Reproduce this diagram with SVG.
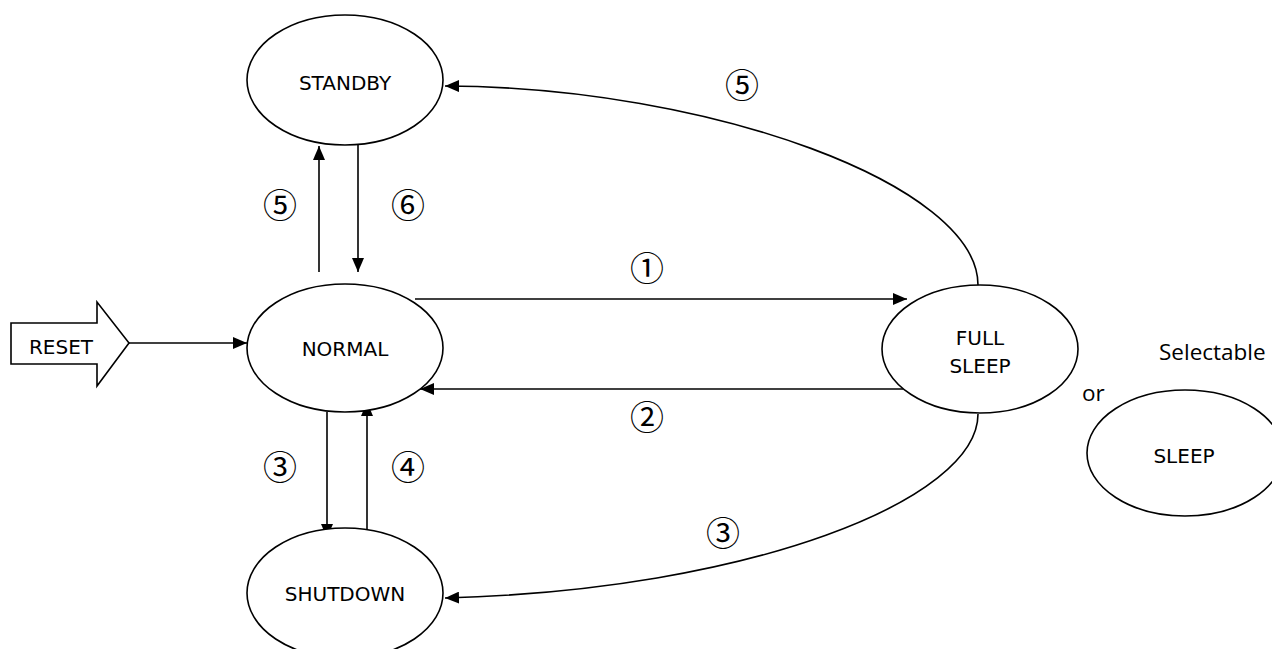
<svg xmlns="http://www.w3.org/2000/svg" width="1272" height="649" viewBox="0 0 1272 649">
<style>
.node{fill:#fff;stroke:#000;stroke-width:1.6}
.lbl{font-family:"DejaVu Sans",Verdana,sans-serif;font-size:20px;fill:#000;text-anchor:middle}
.num{font-family:"Noto Sans CJK JP","DejaVu Sans",sans-serif;font-size:34px;fill:#000;text-anchor:middle}
.side{font-family:"Open Sans","Noto Sans",sans-serif;font-size:22.5px;fill:#000}
.conn{fill:none;stroke:#000;stroke-width:1.6}
</style>
<defs>
<marker id="ah" markerUnits="userSpaceOnUse" markerWidth="14" markerHeight="12" refX="14" refY="6" orient="auto">
<path d="M0,0 L14,6 L0,12 z" fill="#000"/>
</marker>
</defs>
<rect width="1272" height="649" fill="#fff"/>
<g id="connectors">
<line class="conn" x1="129" y1="343" x2="247" y2="343" marker-end="url(#ah)"/>
<line class="conn" x1="319" y1="272" x2="319" y2="146" marker-end="url(#ah)"/>
<line class="conn" x1="358" y1="145" x2="358" y2="272" marker-end="url(#ah)"/>
<line class="conn" x1="415" y1="299" x2="907" y2="299" marker-end="url(#ah)"/>
<line class="conn" x1="903" y1="389" x2="420" y2="389" marker-end="url(#ah)"/>
<line class="conn" x1="327" y1="412" x2="327" y2="538" marker-end="url(#ah)"/>
<line class="conn" x1="367" y1="529" x2="367" y2="402" marker-end="url(#ah)"/>
<path class="conn" d="M978,285 C978,185 710,87 445,86" marker-end="url(#ah)"/>
<path class="conn" d="M978,414 C978,500 750,590 445,598" marker-end="url(#ah)"/>
</g>
<g id="reset">
<polygon class="node" points="11,323 97,323 97,302 129,343 97,386 97,364 11,364"/>
<text class="lbl" x="61" y="354">RESET</text>
</g>
<g id="standby">
<ellipse class="node" cx="345" cy="80" rx="98" ry="65"/>
<text class="lbl" x="345" y="90">STANDBY</text>
</g>
<g id="normal">
<ellipse class="node" cx="345" cy="348" rx="98" ry="64"/>
<text class="lbl" x="345" y="356">NORMAL</text>
</g>
<g id="shutdown">
<ellipse class="node" cx="345" cy="593" rx="98" ry="65"/>
<text class="lbl" x="345" y="601">SHUTDOWN</text>
</g>
<g id="fullsleep">
<ellipse class="node" cx="980" cy="349" rx="98" ry="64"/>
<text class="lbl" x="980" y="345">FULL</text>
<text class="lbl" x="980" y="373">SLEEP</text>
</g>
<g id="sleep">
<ellipse class="node" cx="1185" cy="453" rx="98" ry="63"/>
<text class="lbl" x="1184" y="463">SLEEP</text>
</g>
<g id="labels">
<text class="side" x="1159" y="360">Selectable</text>
<text class="side" x="1082" y="401">or</text>
<text class="num" x="280" y="218">⑤</text>
<text class="num" x="408" y="218">⑥</text>
<text class="num" x="647" y="281">①</text>
<text class="num" x="647" y="430">②</text>
<text class="num" x="280" y="480">③</text>
<text class="num" x="408" y="480">④</text>
<text class="num" x="742" y="98">⑤</text>
<text class="num" x="723" y="546">③</text>
</g>
</svg>
